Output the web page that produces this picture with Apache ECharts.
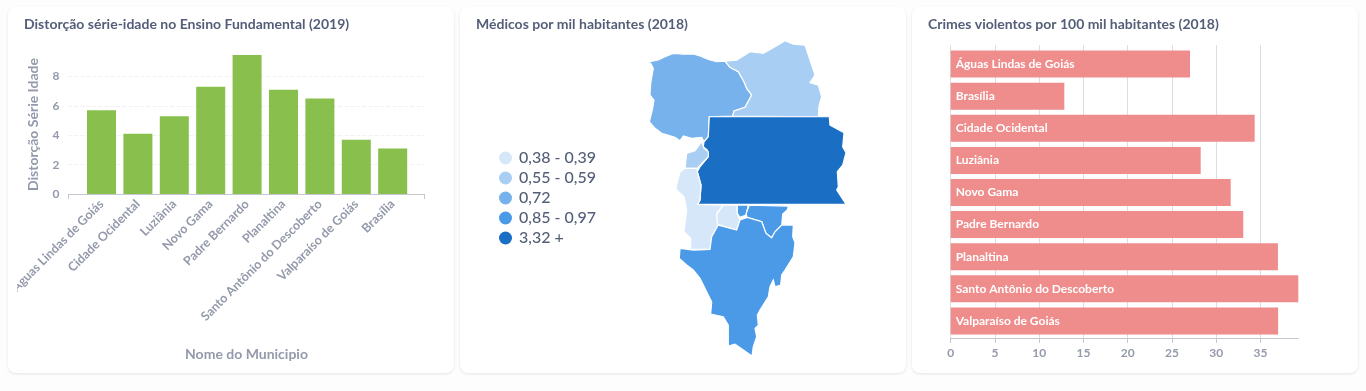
<!DOCTYPE html>
<html>
<head>
<meta charset="utf-8">
<script src="https://cdn.jsdelivr.net/npm/echarts@6/dist/echarts.min.js"></script>
<style>
    html, body { margin: 0; padding: 0; background: #fdfdfd; width: 1366px; height: 391px; overflow: hidden; }
    .card { position: absolute; top: 7px; width: 446px; height: 366px; background: #fff; border-radius: 8px; box-shadow: 0 1px 3px rgba(0, 0, 0, .1); }
    .chart { position: absolute; top: 0; height: 366px; }
</style>
</head>
<body>
<div class="card" style="left:8px"><div id="chart1" class="chart" style="left:9px;width:437px"></div></div>
<div class="card" style="left:460px"><div id="chart2" class="chart" style="left:0;width:446px"></div></div>
<div class="card" style="left:912px"><div id="chart3" class="chart" style="left:0;width:446px"></div></div>
<script>
// distorção série-idade
const distorcaoNomes = ['Águas Lindas de Goiás', 'Cidade Ocidental', 'Luziânia', 'Novo Gama', 'Padre Bernardo', 'Planaltina', 'Santo Antônio do Descoberto', 'Valparaíso de Goiás', 'Brasília'];
const distorcaoValores = [5.7, 4.1, 5.3, 7.3, 9.47, 7.1, 6.5, 3.7, 3.1];
const distorcaoMax = 9.47;

// crimes violentos
const crimesNomes = ['Águas Lindas de Goiás', 'Brasília', 'Cidade Ocidental', 'Luziânia', 'Novo Gama', 'Padre Bernardo', 'Planaltina', 'Santo Antônio do Descoberto', 'Valparaíso de Goiás'];
const crimesValores = [27.04, 12.84, 34.35, 28.25, 31.64, 33.06, 36.98, 39.28, 37.0];
const crimesMax = 39.28;

// médicos por mil habitantes
const medicosNomes = ['Padre Bernardo', 'Planaltina', 'Brasília', 'Águas Lindas de Goiás', 'Santo Antônio do Descoberto', 'Novo Gama', 'Cidade Ocidental', 'Valparaíso de Goiás', 'Luziânia'];
const medicosValores = [0.72, 0.59, 3.32, 0.55, 0.38, 0.39, 0.85, 0.9, 0.97];
const faixasLabels = ['0,38 - 0,39', '0,55 - 0,59', '0,72', '0,85 - 0,97', '3,32 +'];
const faixasMin = [0.38, 0.55, 0.72, 0.85, 3.32];
const faixasMax = [0.39, 0.59, 0.72, 0.97, 3.32];
const faixasCores = ['#d6e7fa', '#a9cef4', '#78b2ec', '#4a9ae8', '#1a6fc4'];

// contorno dos municípios (x, y com y para baixo)
const contornoPadreBernardo = [[646,62.3],[650.7,63.3],[653.3,68.3],[650.7,83.3],[650,95],[654,100],[652.3,110],[649.3,121.7],[655,128.3],[661.7,133.3],[675,137.3],[680,140.7],[683.3,136],[691.7,138.3],[701.7,137.3],[704,141.7],[708.3,136.7],[709.3,116.7],[732.7,116],[734,111],[745,107.3],[751.7,95],[746.7,88.3],[744,81.7],[738.3,71.7],[730,67.3],[725,61],[716.7,61.7],[708.3,59.3],[700,56],[693.3,54],[683.3,54],[673.3,53.3],[665,56.7],[658.3,60]];
const contornoPlanaltina = [[725,61],[736.7,60],[750,51.7],[763.3,53.3],[775,46.7],[785,40.7],[793.3,44],[805,45],[808.3,55],[815,75],[810,82.7],[818.3,85],[821.7,96.7],[819,106],[818.3,116.7],[732.7,116],[734,111],[745,107.3],[751.7,95],[746.7,88.3],[744,81.7],[738.3,71.7],[730,67.3]];
const contornoBrasilia = [[709.3,116.7],[829.3,116.7],[830,125],[844,132.7],[842.7,146.7],[846,152.7],[842.7,165],[837.3,171.7],[838.3,186.7],[836.7,190],[846,204],[697.7,204.3],[700,200],[701,185],[697.3,171.7],[700,166.7],[708.3,156.7],[707.3,150],[703.3,146.7],[704,141.7],[708.3,136.7]];
const contornoAguasLindas = [[701.7,141.7],[704,148.3],[708.3,151.7],[708.3,156.7],[701.7,163.3],[697.3,168.3],[685,168.3],[686.7,153.3],[695,150.7]];
const contornoSantoAntonio = [[676.7,190],[684,196.7],[686.7,210],[684,231.7],[690.7,238.3],[690.7,249.3],[710,249.3],[711.7,236.7],[718.3,225],[716.7,213.3],[723.3,205],[697.7,204.3],[700,200],[701,185],[697.3,171.7],[697.3,168.3],[685,168.3],[680,172],[676,186.7]];
const contornoNovoGama = [[723.3,205],[716.7,214],[717.3,224.3],[736.7,230],[740,220],[737.3,213.3],[737.3,205]];
const contornoCidadeOcidental = [[737.3,205],[748.3,205],[746,215],[740,217.3],[737.3,213.3]];
const contornoValparaiso = [[749.3,205],[788.3,206],[787.3,210],[782.7,214],[781.7,225],[775,231.7],[771.7,237.7],[766,233.3],[761.7,221.7],[747.3,217.3],[746,214]];
const contornoLuziania = [[680,248.3],[693.3,250],[710,249.3],[711.7,236.7],[718.3,225],[736.7,230],[740,220],[747.3,217.3],[761.7,221.7],[766,233.3],[771.7,237.7],[775,231.7],[781.7,225],[793.3,225],[792.7,236.7],[795,242.7],[793.3,256.7],[785,270],[781.7,275],[780.7,285],[775,286.7],[773.3,280],[770,286.7],[768.3,296.7],[760,310],[757.3,315],[758.3,325],[755,328.3],[756.7,336.7],[753.3,346.7],[752,356],[735,344],[728.3,346],[728.3,325],[723.3,316.7],[710.7,314],[711.7,301.7],[700,278.3],[693.3,270],[686.7,265],[679.3,258.3]];
const contornos = [contornoPadreBernardo, contornoPlanaltina, contornoBrasilia, contornoAguasLindas, contornoSantoAntonio, contornoNovoGama, contornoCidadeOcidental, contornoValparaiso, contornoLuziania];

const fonte = 'Lato';
const corEixo = '#949aab';
const corTitulo = '#545e78';

function titulo(texto, left) {
    return {
        text: texto, left: left, top: 5,
        textStyle: { fontFamily: fonte, fontSize: 14, fontWeight: 'bold', color: corTitulo }
    };
}

function drawDistorcao() {
    let myChart = echarts.init(document.getElementById('chart1'));
    myChart.setOption({
        animation: false,
        title: titulo('Distorção série-idade no Ensino Fundamental (2019)', 2),
        grid: [
            { left: 51.5, width: 356, top: 48, height: 139, outerBoundsMode: 'none' },
            { left: 66.3, width: 327.6, top: 48, height: 139, outerBoundsMode: 'none' }
        ],
        xAxis: [
            {
                gridIndex: 0, type: 'value', min: 0, max: 1, interval: 1,
                axisLine: { show: true, lineStyle: { color: '#c4c7d0' } },
                axisTick: { show: true, length: 5, lineStyle: { color: '#c4c7d0' } },
                axisLabel: { show: false }, splitLine: { show: false },
                name: 'Nome do Municipio', nameLocation: 'middle', nameGap: 153,
                nameTextStyle: { fontFamily: fonte, fontSize: 14, fontWeight: 'bold', color: corEixo }
            },
            {
                gridIndex: 1, type: 'category', data: distorcaoNomes,
                axisLine: { show: false }, axisTick: { show: false },
                axisLabel: { interval: 0, rotate: 45, margin: 8, hideOverlap: false, fontFamily: fonte, fontSize: 12.5, fontWeight: 'bold', color: corEixo }
            }
        ],
        yAxis: [
            {
                gridIndex: 0, type: 'value', min: 0, max: distorcaoMax, interval: 2,
                axisLine: { show: false }, axisTick: { show: false },
                axisLabel: { showMaxLabel: false, margin: 9, fontFamily: fonte, fontSize: 12, fontWeight: 'bold', color: corEixo },
                splitLine: { showMaxLine: false, lineStyle: { type: 'dashed', color: '#f0f1f4' } },
                name: 'Distorção Série Idade', nameLocation: 'middle', nameGap: 28,
                nameTextStyle: { fontFamily: fonte, fontSize: 14, fontWeight: 'bold', color: corEixo }
            },
            { gridIndex: 1, type: 'value', min: 0, max: distorcaoMax, show: false }
        ],
        series: [
            { type: 'bar', xAxisIndex: 1, yAxisIndex: 1, data: distorcaoValores, barWidth: 29, itemStyle: { color: '#88bf4d' } }
        ]
    });
}

function drawMedicos() {
    let myChart = echarts.init(document.getElementById('chart2'));
    // y invertido porque o geo trata y como latitude
    let features = medicosNomes.map((nome, i) => ({
        type: 'Feature',
        properties: { name: nome },
        geometry: { type: 'Polygon', coordinates: [contornos[i].map(p => [p[0], -p[1]])] }
    }));
    echarts.registerMap('entorno', { type: 'FeatureCollection', features: features });
    myChart.setOption({
        animation: false,
        title: titulo('Médicos por mil habitantes (2018)', 11),
        visualMap: {
            type: 'piecewise',
            left: 24, top: 128, inverse: true,
            selectedMode: false, hoverLink: false,
            itemSymbol: 'circle', itemWidth: 13, itemHeight: 13, itemGap: 4, textGap: 7,
            textStyle: { fontFamily: fonte, fontSize: 16, fontWeight: 500, color: corTitulo },
            pieces: faixasLabels.map((label, i) => ({ min: faixasMin[i], max: faixasMax[i], label: label, color: faixasCores[i] }))
        },
        series: [{
            type: 'map', map: 'entorno', roam: false, aspectScale: 1,
            layoutCenter: [286, 191.4], layoutSize: 315.3,
            label: { show: false },
            itemStyle: { borderColor: '#fff', borderWidth: 1.2 },
            emphasis: { disabled: true },
            data: medicosNomes.map((nome, i) => ({ name: nome, value: medicosValores[i] }))
        }]
    });
}

function drawCrimes() {
    let myChart = echarts.init(document.getElementById('chart3'));
    myChart.setOption({
        animation: false,
        title: titulo('Crimes violentos por 100 mil habitantes (2018)', 11),
        grid: [
            { left: 38.7, width: 347.6, top: 38, height: 293, outerBoundsMode: 'none' },
            { left: 38.7, width: 347.6, top: 41, height: 289, outerBoundsMode: 'none' }
        ],
        xAxis: [
            {
                gridIndex: 0, type: 'value', min: 0, max: crimesMax, interval: 5,
                axisLine: { show: true, lineStyle: { color: '#c4c7d0' } },
                axisTick: { show: true, length: 5, lineStyle: { color: '#c4c7d0' } },
                axisLabel: { showMaxLabel: false, margin: 9, fontFamily: fonte, fontSize: 12, fontWeight: 'bold', color: corEixo },
                splitLine: { showMaxLine: false, lineStyle: { color: '#dcdee4' } }
            },
            { gridIndex: 1, type: 'value', min: 0, max: crimesMax, show: false }
        ],
        yAxis: [
            { gridIndex: 0, type: 'value', show: false },
            { gridIndex: 1, type: 'category', inverse: true, data: crimesNomes, show: false }
        ],
        series: [{
            type: 'bar', xAxisIndex: 1, yAxisIndex: 1, data: crimesValores, barWidth: 27,
            itemStyle: { color: '#ef8c8c' },
            label: { show: true, position: 'insideLeft', distance: 5, formatter: '{b}', fontFamily: fonte, fontSize: 12, fontWeight: 'bold', color: '#fff' }
        }]
    });
}

drawDistorcao();
drawMedicos();
drawCrimes();
</script>
</body>
</html>
